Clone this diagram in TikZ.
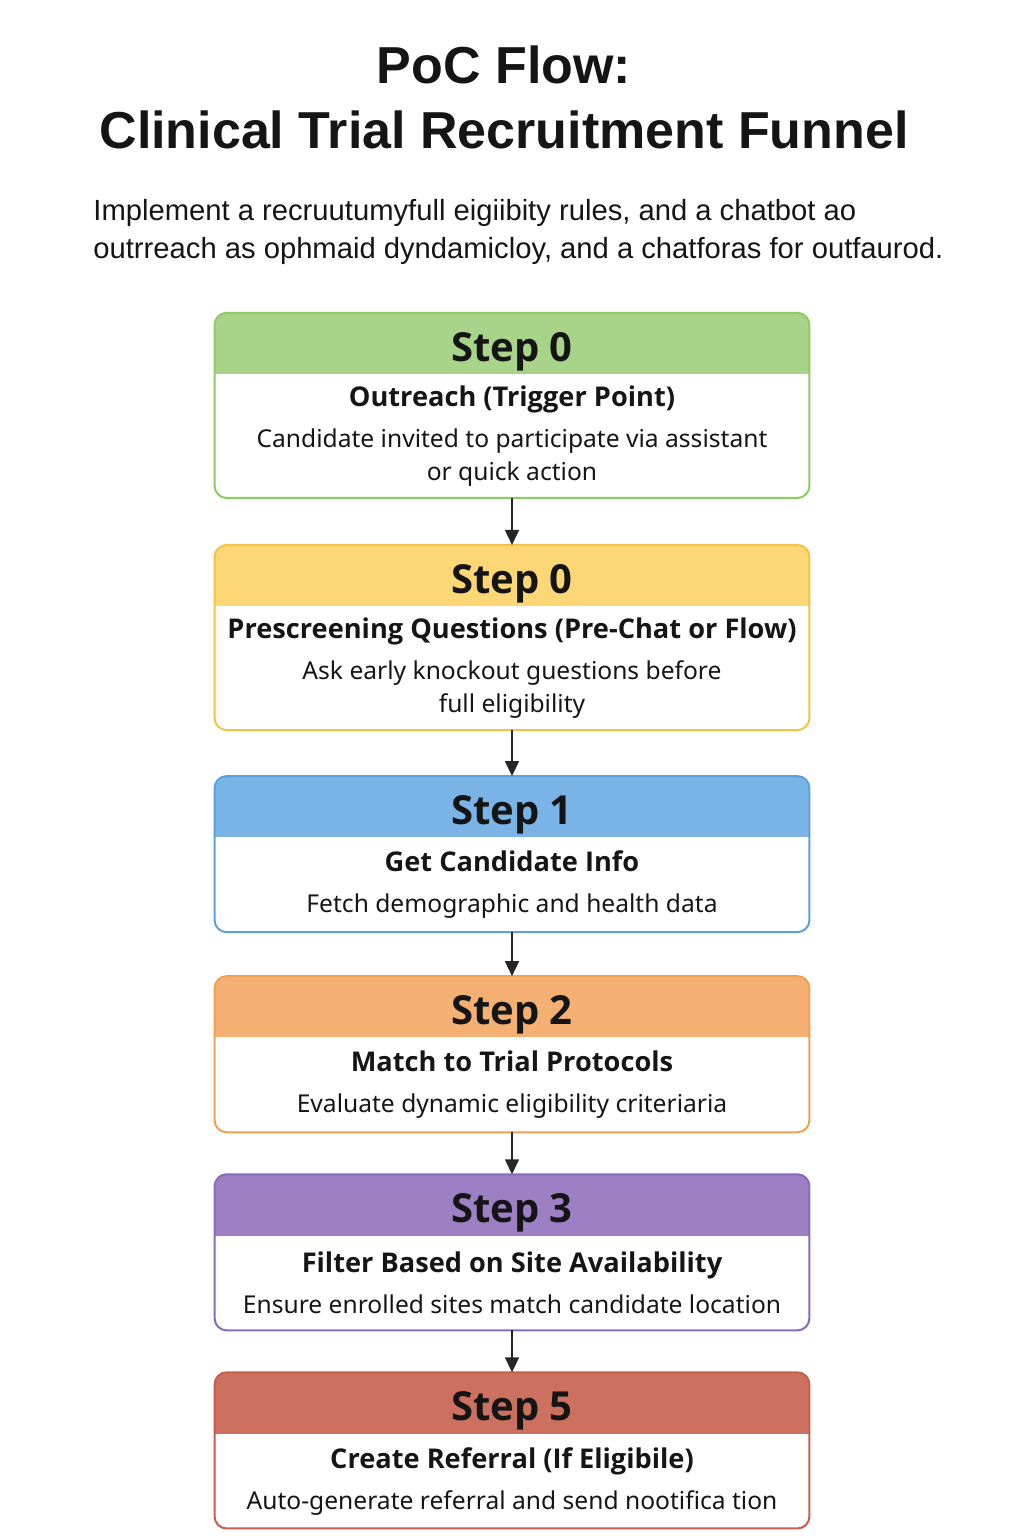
\documentclass[tikz,border=0pt]{standalone}
\usepackage{fontspec}
\setmainfont{Noto Sans}[BoldFont={Open Sans Bold}]
\newfontfamily\headfont{Liberation Sans}
\usetikzlibrary{positioning,arrows.meta,backgrounds}

\definecolor{grnhead}{HTML}{A8D48A}
\definecolor{grnedge}{HTML}{8DCB63}
\definecolor{ylwhead}{HTML}{FDD676}
\definecolor{ylwedge}{HTML}{F6C244}
\definecolor{bluhead}{HTML}{7AB3E5}
\definecolor{bluedge}{HTML}{5C9EE0}
\definecolor{orghead}{HTML}{F4B073}
\definecolor{orgedge}{HTML}{EFA055}
\definecolor{prphead}{HTML}{9D80C3}
\definecolor{prpedge}{HTML}{8A69BA}
\definecolor{redhead}{HTML}{CC7060}
\definecolor{rededge}{HTML}{C75D4D}
\definecolor{ink}{HTML}{151515}

\begin{document}
\begin{tikzpicture}[
  x=1pt, y=1pt,
  font=\fontsize{12.3}{16.5}\selectfont,
  text=ink,
  head/.style  ={rectangle, minimum width=297pt, minimum height=30.25pt, inner sep=0pt,
                 text height=17.5pt, text depth=0pt, font=\bfseries\fontsize{20}{24}\selectfont},
  body/.style  ={rectangle, minimum width=297pt, inner sep=0pt, align=center},
  tall/.style  ={body, minimum height=61.5pt},
  short/.style ={body, minimum height=47pt},
  frame/.style ={line width=1pt, rounded corners=6pt},
  arr/.style   ={-{Triangle[length=7.5pt, width=7pt]}, line width=0.8pt, draw=black!85},
]
\useasboundingbox (0,0) rectangle (512,-768);

% ---------------- title and intro ----------------
\node[font=\headfont\bfseries\fontsize{26}{32.5}\selectfont, align=center]
  (title) at (252,-48.75) {PoC Flow:\\Clinical Trial Recruitment Funnel};
\node[font=\headfont\fontsize{14.6}{19}\selectfont, align=left, anchor=west, inner sep=0pt]
  (intro) at (46.5,-116) {Implement a recruutumyfull eigiibity rules, and a chatbot ao\\
  outrreach as ophmaid dyndamicloy, and a chatforas for outfaurod.};

% ---------------- steps ----------------
\node[head] (h0) at (256,-171.75) {Step 0};
\node[tall, below=0pt of h0] (b0) {{\bfseries\fontsize{13.6}{17}\selectfont Outreach (Trigger Point)}\\[4pt]
  Candidate invited to participate via assistant\\or quick action};

\node[head, below=23.5pt of b0] (h1) {Step 0};
\node[tall, below=0pt of h1] (b1) {{\bfseries\fontsize{13.6}{17}\selectfont Prescreening Questions (Pre-Chat or Flow)}\\[4pt]
  Ask early knockout guestions before\\full eligibility};

\node[head, below=23pt of b1] (h2) {Step 1};
\node[short, below=0pt of h2] (b2) {{\bfseries\fontsize{13.6}{17}\selectfont Get Candidate Info}\\[4pt]
  Fetch demographic and health data};

\node[head, below=22pt of b2] (h3) {Step 2};
\node[short, below=0pt of h3] (b3) {{\bfseries\fontsize{13.6}{17}\selectfont Match to Trial Protocols}\\[4pt]
  Evaluate dynamic eligibility criteriaria};

\node[head, below=21pt of b3] (h4) {Step 3};
\node[short, below=0pt of h4] (b4) {{\bfseries\fontsize{13.6}{17}\selectfont Filter Based on Site Availability}\\[4pt]
  Ensure enrolled sites match candidate location};

\node[head, below=21pt of b4] (h5) {Step 5};
\node[short, below=0pt of h5] (b5) {{\bfseries\fontsize{13.6}{17}\selectfont Create Referral (If Eligibile)}\\[4pt]
  Auto-generate referral and send nootifica tion};

\draw[arr] (b0) -- (h1);
\draw[arr] (b1) -- (h2);
\draw[arr] (b2) -- (h3);
\draw[arr] (b3) -- (h4);
\draw[arr] (b4) -- (h5);

% ---------------- coloured headers and frames ----------------
\begin{scope}[on background layer]
  \foreach \n/\hd/\ed in {0/grnhead/grnedge, 1/ylwhead/ylwedge, 2/bluhead/bluedge,
                          3/orghead/orgedge, 4/prphead/prpedge, 5/redhead/rededge} {
    \begin{scope}
      \clip[rounded corners=6pt] (h\n.north west) rectangle (b\n.south east);
      \fill[\hd] (h\n.north west) rectangle (h\n.south east);
    \end{scope}
    \draw[frame, draw=\ed] (h\n.north west) rectangle (b\n.south east);
  }
\end{scope}

\end{tikzpicture}
\end{document}
